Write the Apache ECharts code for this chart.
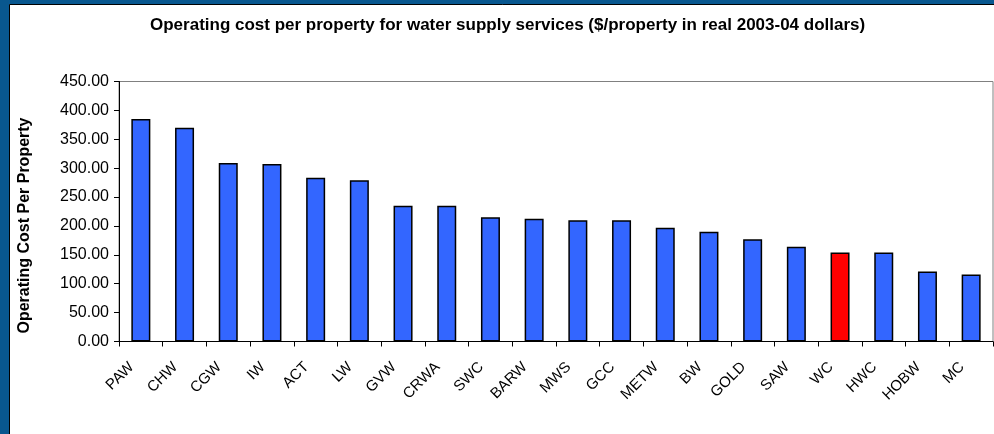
<!DOCTYPE html>
<html>
<head>
<meta charset="utf-8">
<script src="https://cdn.jsdelivr.net/npm/echarts@6/dist/echarts.min.js"></script>
<style>
html,body{margin:0;padding:0;background:#08578F;}
#chart{width:994px;height:434px;}
</style>
</head>
<body>
<div id="chart"></div>
<script>
const chartTitle = 'Operating cost per property for water supply services ($/property in real 2003-04 dollars)';
const yAxisTitle = 'Operating Cost Per Property';
const categories = ['PAW','CHW','CGW','IW','ACT','LW','GVW','CRWA','SWC','BARW','MWS','GCC','METW','BW','GOLD','SAW','WC','HWC','HOBW','MC'];
const values = [385, 370, 309, 307, 283.5, 279, 235, 235, 215, 212.5, 210, 210, 197, 190, 177, 164, 154, 154, 121, 116];
const highlighted = ['WC'];
const yTicks = [0, 50, 100, 150, 200, 250, 300, 350, 400, 450];

const chart = echarts.init(document.getElementById('chart'), null, {renderer: 'canvas'});
const FONT = 'Liberation Sans, Arial, sans-serif';
chart.setOption({
  backgroundColor: '#08578F',
  animation: false,
  graphic: [{
    type: 'rect', z: -10, silent: true,
    shape: {x: 9.5, y: 4.5, width: 1000, height: 500},
    style: {fill: '#ffffff', stroke: '#000000', lineWidth: 1}
  }],
  title: {
    text: chartTitle, left: 145, top: 12,
    textStyle: {fontFamily: FONT, fontWeight: 'bold', fontSize: 17, color: '#000'}
  },
  grid: {left: 119, right: 1, top: 81.5, height: 260, show: true, borderColor: '#808080', borderWidth: 1, backgroundColor: 'transparent'},
  xAxis: {
    type: 'category', data: categories, boundaryGap: true,
    axisLine: {lineStyle: {color: '#000', width: 1}},
    axisTick: {show: true, length: 5, alignWithLabel: false, lineStyle: {color: '#000'}},
    axisLabel: {rotate: 45, margin: 14, padding: [0, 13, 0, 0], interval: 0, fontFamily: FONT, fontSize: 15, color: '#000'}
  },
  yAxis: {
    type: 'value', min: yTicks[0], max: yTicks[yTicks.length - 1], interval: yTicks[1] - yTicks[0],
    name: yAxisTitle, nameLocation: 'middle', nameGap: 86,
    nameTextStyle: {fontFamily: FONT, fontWeight: 'bold', fontSize: 16, color: '#000', padding: [0, 28, 0, 0]},
    axisLine: {show: true, lineStyle: {color: '#000', width: 1}},
    axisTick: {show: true, length: 5, lineStyle: {color: '#000'}},
    splitLine: {show: false},
    axisLabel: {margin: 10, fontFamily: FONT, fontSize: 16, color: '#000', formatter: v => v.toFixed(2)}
  },
  series: [{
    type: 'bar', barWidth: 19,
    data: values.map((v, i) => ({
      value: v,
      itemStyle: {color: highlighted.includes(categories[i]) ? '#FF0000' : '#3366FF'}
    })),
    itemStyle: {borderColor: '#000', borderWidth: 1.5}
  }]
});
</script>
</body>
</html>
